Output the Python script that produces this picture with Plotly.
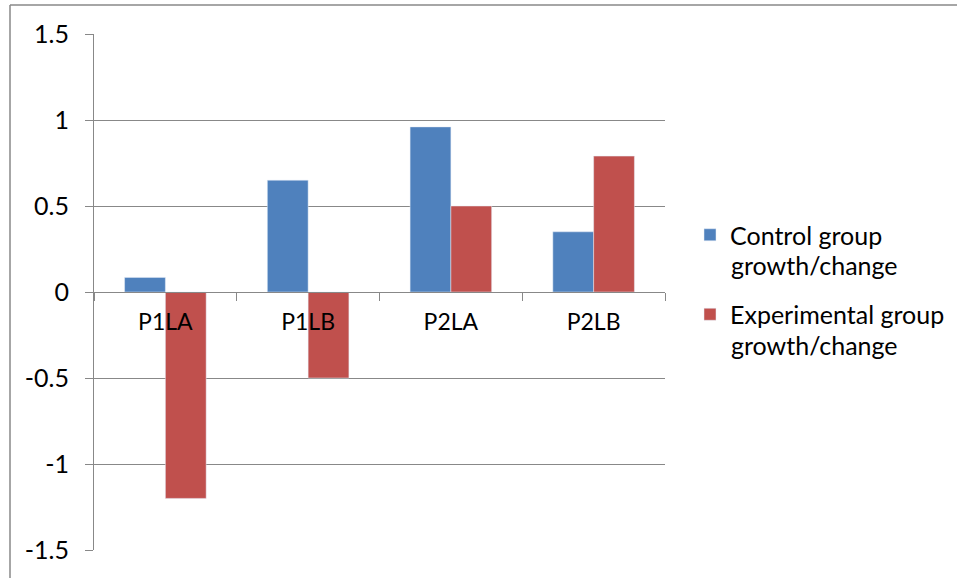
import plotly.graph_objects as go

categories = ["P1LA", "P1LB", "P2LA", "P2LB"]
control = [0.085, 0.65, 0.96, 0.35]
experimental = [-1.2, -0.5, 0.5, 0.79]
series_names = ["Control group", "Experimental group"]
series_sub = ["growth/change", "growth/change"]
ytick_vals = [-1.5, -1, -0.5, 0, 0.5, 1, 1.5]
ytick_text = ["-1.5", "-1", "-0.5", "0", "0.5", "1", "1.5"]

W, H = 957, 578
L, R, T, B = 94, 292, 34, 28
pw, ph = W - L - R, H - T - B

def px_x(x):
    return (x - L) / pw

def px_y(y):
    return (H - B - y) / ph

FONT = "Lato"
GRID = "#888888"
LEG_FONT = 25

fig = go.Figure()
fig.add_trace(go.Bar(x=categories, y=control, name=series_names[0], marker_color="#4F81BD",
                     legendgroup="a"))
fig.add_trace(go.Bar(x=categories, y=experimental, name=series_names[1], marker_color="#C0504D",
                     legendgroup="b"))

annotations = []
for i, sub in enumerate(series_sub):
    annotations.append(dict(text=sub, xref="paper", yref="paper", x=px_x(729), y=px_y(265 + 80 * i),
                            xanchor="left", yanchor="middle", showarrow=False,
                            font=dict(family=FONT, size=LEG_FONT, color="#000000")))

fig.update_layout(
    width=W, height=H,
    margin=dict(l=L, r=R, t=T, b=B, autoexpand=False),
    paper_bgcolor="white", plot_bgcolor="white",
    barmode="group", bargap=1.5 / 3.5, bargroupgap=0,
    font=dict(family=FONT, size=24, color="#000000"),
    legend=dict(x=px_x(690), y=px_y(212), xanchor="left", yanchor="top",
                font=dict(family=FONT, size=LEG_FONT), tracegroupgap=44, bgcolor="rgba(0,0,0,0)"),
    xaxis=dict(anchor="free", position=0.5, showline=True, linecolor=GRID, linewidth=1,
               ticks="outside", ticklen=8, tickcolor=GRID, tickson="boundaries",
               showgrid=False, ticklabelstandoff=9, tickfont=dict(size=23)),
    yaxis=dict(range=[-1.5, 1.5], tickvals=ytick_vals, ticktext=ytick_text,
               showgrid=True, gridcolor=GRID, gridwidth=1, zeroline=False,
               showline=True, linecolor=GRID, linewidth=1,
               ticks="outside", ticklen=8, tickcolor=GRID, ticklabelstandoff=11,
               tickfont=dict(size=25)),
    annotations=annotations,
    shapes=[
        dict(type="line", xref="paper", yref="paper", x0=px_x(10), x1=px_x(960),
             y0=px_y(5), y1=px_y(5), line=dict(color=GRID, width=1.5)),
        dict(type="line", xref="paper", yref="paper", x0=px_x(10), x1=px_x(10),
             y0=px_y(5), y1=px_y(590), line=dict(color=GRID, width=1.5)),
    ],
)
fig.write_html("out.html")
